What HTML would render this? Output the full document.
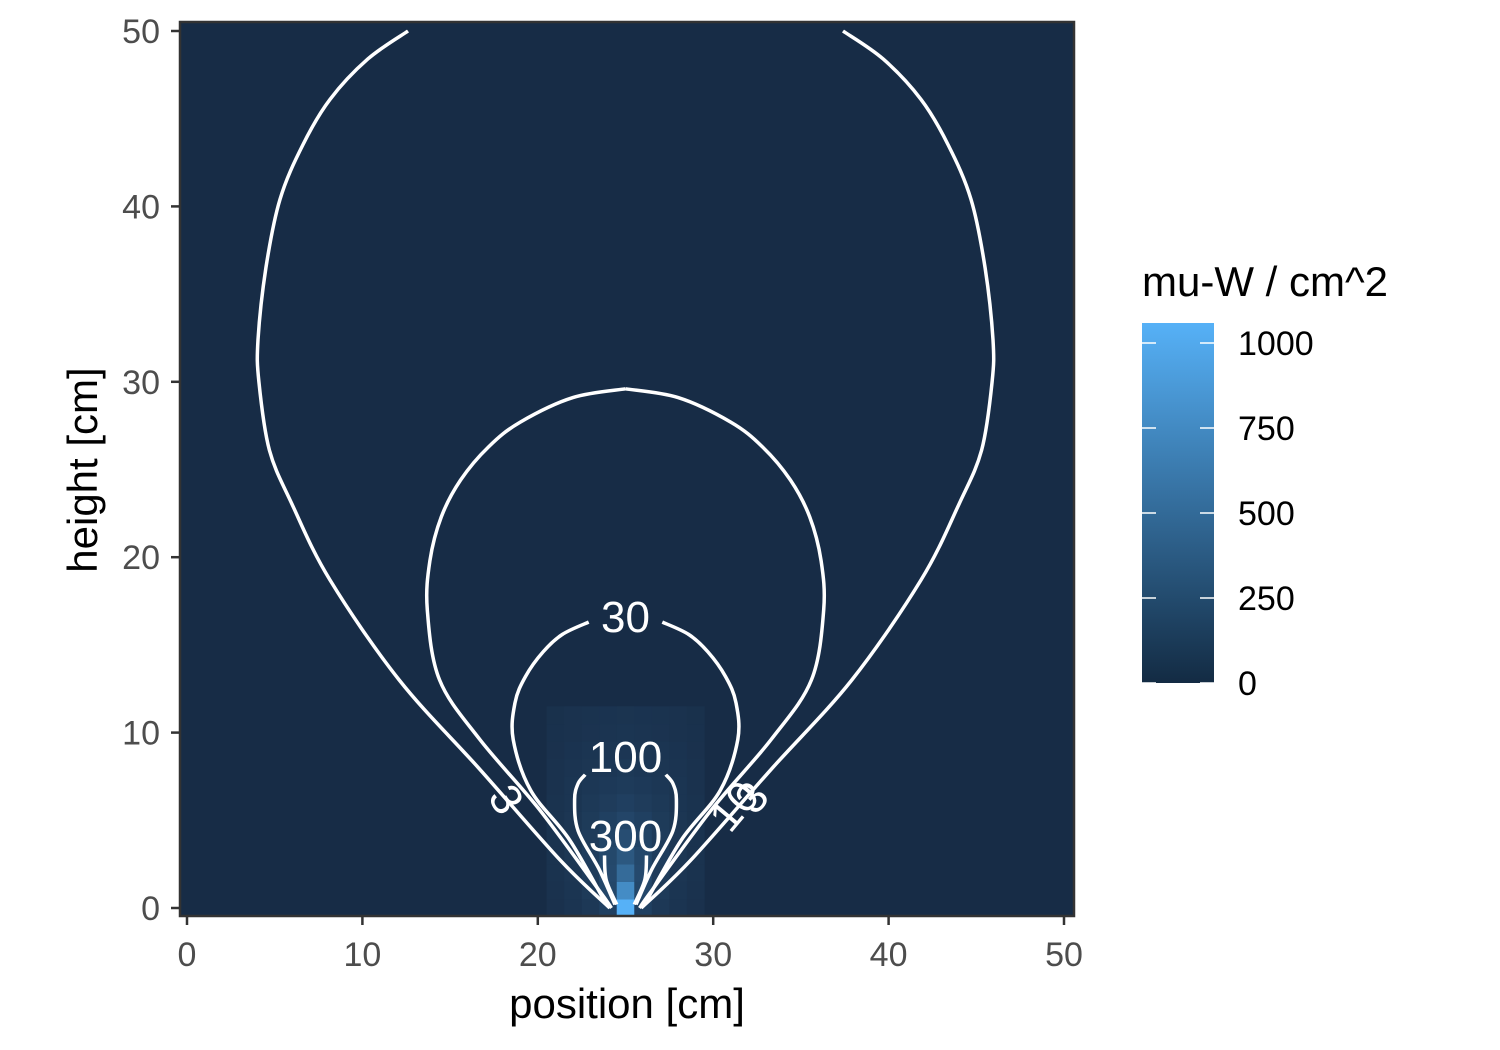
<!DOCTYPE html>
<html><head><meta charset="utf-8"><style>
html,body{margin:0;padding:0;background:#fff;width:1500px;height:1050px;overflow:hidden;font-family:"Liberation Sans",sans-serif}
svg{display:block}
</style></head><body>
<svg id="chart" width="1500" height="1050" xmlns="http://www.w3.org/2000/svg" font-family="Liberation Sans, sans-serif">
<defs>
<linearGradient id="cbar" x1="0" y1="1" x2="0" y2="0"><stop offset="0" stop-color="#132B43"/><stop offset="1" stop-color="#56B1F7"/></linearGradient>
<clipPath id="pclip"><rect x="180" y="22" width="894" height="894"/></clipPath>
</defs>
<rect x="180" y="22" width="894" height="894" fill="#172c46"/>
<g id="heat" clip-path="url(#pclip)"></g>
<g id="contours" clip-path="url(#pclip)"></g>
<rect x="180" y="22" width="894" height="894" fill="none" stroke="#333" stroke-width="2.5"/>
<g id="axes"></g>
<text x="627" y="1018" font-size="42" text-anchor="middle" fill="#000">position [cm]</text>
<text transform="translate(97,470) rotate(-90)" font-size="42" text-anchor="middle" fill="#000">height [cm]</text>
<g>
<text x="1142" y="296" font-size="42" fill="#000">mu-W / cm^2</text>
<rect x="1142" y="323" width="72" height="360" fill="url(#cbar)"/>
<g id="legticks"></g>
</g>
</svg>
<script>
const xTicks=[0,10,20,30,40,50];
const yTicks=[0,10,20,30,40,50];
const legendTicks=[0,250,500,750,1000];
// heat cells for x = 21..29 (columns), rows y = 0..11
const gridX=[21,22,23,24,25,26,27,28,29];
const gridRows=[
[40,60,90,150,1000,150,90,60,40],
[45,70,110,200,720,200,110,70,45],
[50,75,120,220,470,220,120,75,50],
[50,80,130,210,330,210,130,80,50],
[50,80,120,180,250,180,120,80,50],
[50,75,110,150,190,150,110,75,50],
[50,70,95,120,145,120,95,70,50],
[45,65,85,100,115,100,85,65,45],
[45,60,75,85,95,85,75,60,45],
[40,55,65,72,78,72,65,55,40],
[38,48,56,62,66,62,56,48,38],
[35,44,50,54,57,54,50,44,35]];
const c3=[[24.1,0],[21.3,2.7],[16.7,7.9],[12.1,13.0],[8.15,18.7],[6,23],[4.7,26.1],[4.1,30],[4.05,32.4],[4.5,36.5],[5.3,40.4],[6.6,43.5],[8.15,46.1],[10.3,48.4],[12.6,50]];
const c10=[[24.2,0],[23.5,1.0],[20.1,5.6],[16.7,9.6],[14.4,13],[13.7,17],[13.85,19.8],[14.5,22.3],[15.6,24.4],[17.2,26.3],[19,27.7],[22,29.1],[25,29.6]];
const c30=[[23.8,0.4],[21.8,3.9],[19.6,6.7],[18.6,9.6],[18.7,11.7],[19.3,13.2],[20.3,14.6],[21.4,15.6],[22.9,16.3]];
const c100=[[24.4,0.2],[23.5,2.2],[22.3,4.4],[22.1,6.2],[22.3,7.1],[22.7,7.6]];
const c300=[[24.5,0.2],[23.9,1.6],[23.8,3.0]];
const contourLabels=[["30",25,16.6,0],["100",25,8.6,0],["300",25,4.1,0],["3",18.2,6.2,58],["10",31.2,5.8,-50],["3",32.2,6.3,-50]];
const X=v=>187+v*17.54, Y=v=>908-v*17.54;
const L=v=>683-v*0.34;
const ns="http://www.w3.org/2000/svg";
function mk(t,a,p){const e=document.createElementNS(ns,t);for(const k in a)e.setAttribute(k,a[k]);p.appendChild(e);return e;}
function col(v){const t=Math.min(1,Math.max(0,v/1000));const a=[0x17,0x2C,0x46],b=[0x56,0xB1,0xF7];return "rgb("+a.map((c,i)=>Math.round(c+(b[i]-c)*t)).join(",")+")";}
function smooth(p){let d="M"+p[0][0].toFixed(1)+","+p[0][1].toFixed(1);
 for(let i=0;i<p.length-1;i++){const p0=p[Math.max(0,i-1)],p1=p[i],p2=p[i+1],p3=p[Math.min(p.length-1,i+2)];
 const c1=[p1[0]+(p2[0]-p0[0])/6,p1[1]+(p2[1]-p0[1])/6],c2=[p2[0]-(p3[0]-p1[0])/6,p2[1]-(p3[1]-p1[1])/6];
 d+="C"+c1.map(v=>v.toFixed(1))+" "+c2.map(v=>v.toFixed(1))+" "+p2[0].toFixed(1)+","+p2[1].toFixed(1);}
 return d;}
const heat=document.getElementById('heat');
gridRows.forEach((row,yi)=>row.forEach((v,xi)=>{
 const r=mk('rect',{x:X(gridX[xi]-0.5),y:Y(yi+0.5),width:17.8,height:17.8,fill:col(v)},heat);
 
 }));
const cg=document.getElementById('contours');
[["contour-3",c3],["contour-10",c10],["contour-30",c30],["contour-100",c100],["contour-300",c300]].forEach(([n,pts])=>{
 [1,-1].forEach(s=>{const pp=pts.map(p=>[X(25+s*(p[0]-25)),Y(p[1])]);
 const e=mk('path',{d:smooth(pp),fill:"none",stroke:"#fff","stroke-width":3.5},cg);
 
 });});
contourLabels.forEach(l=>{const t=mk('text',{x:X(l[1]),y:Y(l[2])+15,"font-size":44,fill:"#fff","text-anchor":"middle",transform:"rotate("+l[3]+" "+X(l[1])+" "+Y(l[2])+")"},cg);t.textContent=l[0];

});
const ax=document.getElementById('axes');
xTicks.forEach(v=>{mk('line',{x1:X(v),x2:X(v),y1:916,y2:925,stroke:"#333","stroke-width":2.5},ax);
const t=mk('text',{x:X(v),y:966,"font-size":34,fill:"#4d4d4d","text-anchor":"middle"},ax);t.textContent=v;

});
yTicks.forEach(v=>{mk('line',{x1:171,x2:180,y1:Y(v),y2:Y(v),stroke:"#333","stroke-width":2.5},ax);
const t=mk('text',{x:160,y:Y(v)+12,"font-size":34,fill:"#4d4d4d","text-anchor":"end"},ax);t.textContent=v;

});
const lt=document.getElementById('legticks');
legendTicks.forEach(v=>{mk('line',{x1:1142,x2:1156,y1:L(v),y2:L(v),stroke:"#fff","stroke-width":1.5},lt);
mk('line',{x1:1200,x2:1214,y1:L(v),y2:L(v),stroke:"#fff","stroke-width":1.5},lt);
const t=mk('text',{x:1238,y:L(v)+12,"font-size":34,fill:"#000"},lt);t.textContent=v;

});
</script>
</body></html>
